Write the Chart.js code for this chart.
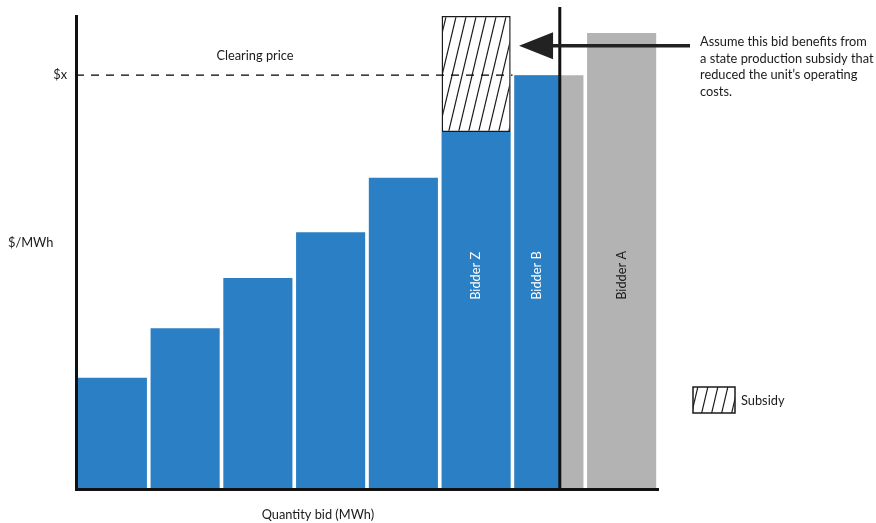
<!DOCTYPE html>
<html>
<head>
<meta charset="utf-8">
<script src="https://cdn.jsdelivr.net/npm/chart.js@4.4.0/dist/chart.umd.min.js"></script>
<style>
    body { margin: 0; background: #fff; }
    #wrap { width: 876px; height: 523px; }
</style>
</head>
<body>
<div id="wrap"><canvas id="bidChart" width="876" height="523"></canvas></div>
<script>
// bid stack, one slot per bid along the quantity axis
const bidQty = [0.5, 1.5, 2.5, 3.5, 4.5, 5.5, 6.5, 7.5];
const bidPrice = [23.5, 34.0, 44.6, 54.3, 65.8, 75.5, 87.5, 96.4];
const bidderNames = ['', '', '', '', '', 'Bidder Z', 'Bidder B', 'Bidder A'];

const subsidyBid = 5;          // Bidder Z
const subsidyTop = 100;        // price the bid would have had without the subsidy
const clearingPrice = 87.5;
const demandQty = 6.65;
const demandTop = 101.9;
const qtyMax = 8;
const priceMax = 100;

const arrowFromQty = 8.44;
const arrowToQty = 6.09;
const arrowPrice = 93.7;
const labelBasePrice = 40;

const noteLines = ['Assume this bid benefits from', 'a state production subsidy that', 'reduced the unit\u2019s operating', 'costs.'];

const BLUE = '#2a7fc5';
const GREY = '#b3b3b3';
const INK = '#1a1a1a';
const FONT = '12.8px Lato, "Open Sans", sans-serif';

// cleared part of the stack = everything starting left of demand, the rest is grey
const blueIdx = bidQty.map((q, i) => i).filter(i => bidQty[i] - 0.5 < demandQty);
const greyIdx = bidQty.map((q, i) => i).filter(i => bidQty[i] + 0.5 > demandQty);

const makeHatch = () => {
    const w = 10, h = 42;
    const c = document.createElement('canvas');
    c.width = w;
    c.height = h;
    const g = c.getContext('2d');
    g.fillStyle = '#fff';
    g.fillRect(0, 0, w, h);
    g.strokeStyle = INK;
    g.lineWidth = 1.2;
    for (const dx of [-w, 0, w]) {
        g.beginPath();
        g.moveTo(dx, h);
        g.lineTo(dx + w, 0);
        g.stroke();
    }
    return g.createPattern(c, 'repeat');
};
const hatch = makeHatch();

const annotations = {
    id: 'annotations',
    beforeDatasetDraw(chart, args) {
        if (chart.data.datasets[args.index].label !== 'Cleared bids') return;
        const { ctx, scales: { x } } = chart;
        ctx.save();
        ctx.beginPath();
        ctx.rect(0, 0, x.getPixelForValue(demandQty), chart.height);
        ctx.clip();
    },
    afterDatasetDraw(chart, args) {
        if (chart.data.datasets[args.index].label !== 'Cleared bids') return;
        chart.ctx.restore();
    },
    afterDraw(chart) {
        const { ctx, chartArea, scales: { x, y } } = chart;
        const demandPx = x.getPixelForValue(demandQty);
        ctx.save();

        // demand line
        ctx.strokeStyle = '#111';
        ctx.lineWidth = 3;
        ctx.beginPath();
        ctx.moveTo(demandPx, y.getPixelForValue(demandTop));
        ctx.lineTo(demandPx, chartArea.bottom);
        ctx.stroke();

        // arrow pointing at the subsidy
        const ay = y.getPixelForValue(arrowPrice);
        const tail = x.getPixelForValue(arrowFromQty);
        const tip = x.getPixelForValue(arrowToQty);
        const headLen = 34, headHalf = 13.5;
        ctx.strokeStyle = '#222';
        ctx.fillStyle = '#222';
        ctx.lineWidth = 3.5;
        ctx.beginPath();
        ctx.moveTo(tail, ay);
        ctx.lineTo(tip + headLen - 2, ay);
        ctx.stroke();
        ctx.beginPath();
        ctx.moveTo(tip, ay);
        ctx.lineTo(tip + headLen, ay - headHalf);
        ctx.lineTo(tip + headLen, ay + headHalf);
        ctx.closePath();
        ctx.fill();

        ctx.font = FONT;
        ctx.fillStyle = INK;
        ctx.textBaseline = 'middle';

        // note next to the arrow
        ctx.textAlign = 'left';
        noteLines.forEach((line, i) => ctx.fillText(line, tail + 10, ay - 4 + i * 16.7));

        // clearing price
        ctx.textAlign = 'center';
        ctx.fillText('Clearing price', x.getPixelForValue(2.46), y.getPixelForValue(91.5));
        ctx.textAlign = 'right';
        ctx.fillText('$x', chartArea.left - 9, y.getPixelForValue(clearingPrice));

        // axis titles
        ctx.textAlign = 'left';
        ctx.fillText('$/MWh', 8, y.getPixelForValue(52));
        ctx.textAlign = 'center';
        ctx.fillText('Quantity bid (MWh)', (chartArea.left + demandPx) / 2, chartArea.bottom + 26);

        // bidder names inside the bars
        const blueMeta = chart.getDatasetMeta(2);
        const greyMeta = chart.getDatasetMeta(3);
        bidderNames.forEach((name, i) => {
            if (!name) return;
            const j = blueIdx.indexOf(i);
            const el = j >= 0 ? blueMeta.data[j] : greyMeta.data[greyIdx.indexOf(i)];
            const left = el.x - el.width / 2;
            const right = j >= 0 ? Math.min(el.x + el.width / 2, demandPx) : el.x + el.width / 2;
            ctx.save();
            ctx.translate((left + right) / 2, y.getPixelForValue(labelBasePrice));
            ctx.rotate(-Math.PI / 2);
            ctx.textAlign = 'left';
            ctx.fillStyle = j >= 0 ? '#fff' : INK;
            ctx.fillText(name, 0, 0);
            ctx.restore();
        });

        // legend
        const lx = chartArea.right + 35, ly = 387;
        ctx.fillStyle = hatch;
        ctx.fillRect(lx, ly, 42, 26);
        ctx.strokeStyle = INK;
        ctx.lineWidth = 1.5;
        ctx.strokeRect(lx, ly, 42, 26);
        ctx.fillStyle = INK;
        ctx.textAlign = 'left';
        ctx.fillText('Subsidy', lx + 48, ly + 14);

        ctx.restore();
    }
};

new Chart(document.getElementById('bidChart'), {
    type: 'bar',
    data: {
        datasets: [
            {
                type: 'line',
                label: 'Clearing price',
                data: [{ x: 0, y: clearingPrice }, { x: bidQty[6] - 0.5, y: clearingPrice }],
                borderColor: '#000',
                borderWidth: 1.3,
                borderDash: [8, 7],
                pointRadius: 0,
                order: 0
            },
            {
                label: 'Subsidy',
                data: [{ x: bidQty[subsidyBid], y: [bidPrice[subsidyBid], subsidyTop] }],
                backgroundColor: hatch,
                borderColor: INK,
                borderWidth: 1.5,
                borderSkipped: false,
                grouped: false,
                clip: false,
                order: 1
            },
            {
                label: 'Cleared bids',
                data: blueIdx.map(i => ({ x: bidQty[i], y: bidPrice[i] })),
                backgroundColor: BLUE,
                grouped: false,
                order: 2
            },
            {
                label: 'Uncleared bids',
                data: greyIdx.map(i => ({ x: bidQty[i], y: bidPrice[i] })),
                backgroundColor: GREY,
                grouped: false,
                order: 3
            }
        ]
    },
    options: {
        responsive: false,
        animation: false,
        events: [],
        categoryPercentage: 1,
        barPercentage: 0.95,
        layout: { padding: { left: 76, top: 16, right: 218, bottom: 34 } },
        plugins: {
            legend: { display: false },
            tooltip: { enabled: false }
        },
        scales: {
            x: {
                type: 'linear',
                offset: false,
                min: 0,
                max: qtyMax,
                ticks: { display: false, stepSize: 1 },
                grid: { display: false, drawTicks: false, tickLength: 0 },
                border: { display: true, color: '#111', width: 3, z: 1 }
            },
            y: {
                type: 'linear',
                min: 0,
                max: priceMax,
                ticks: { display: false },
                grid: { display: false, drawTicks: false, tickLength: 0 },
                border: { display: true, color: '#111', width: 3, z: 1 }
            }
        }
    },
    plugins: [annotations]
});
</script>
</body>
</html>
